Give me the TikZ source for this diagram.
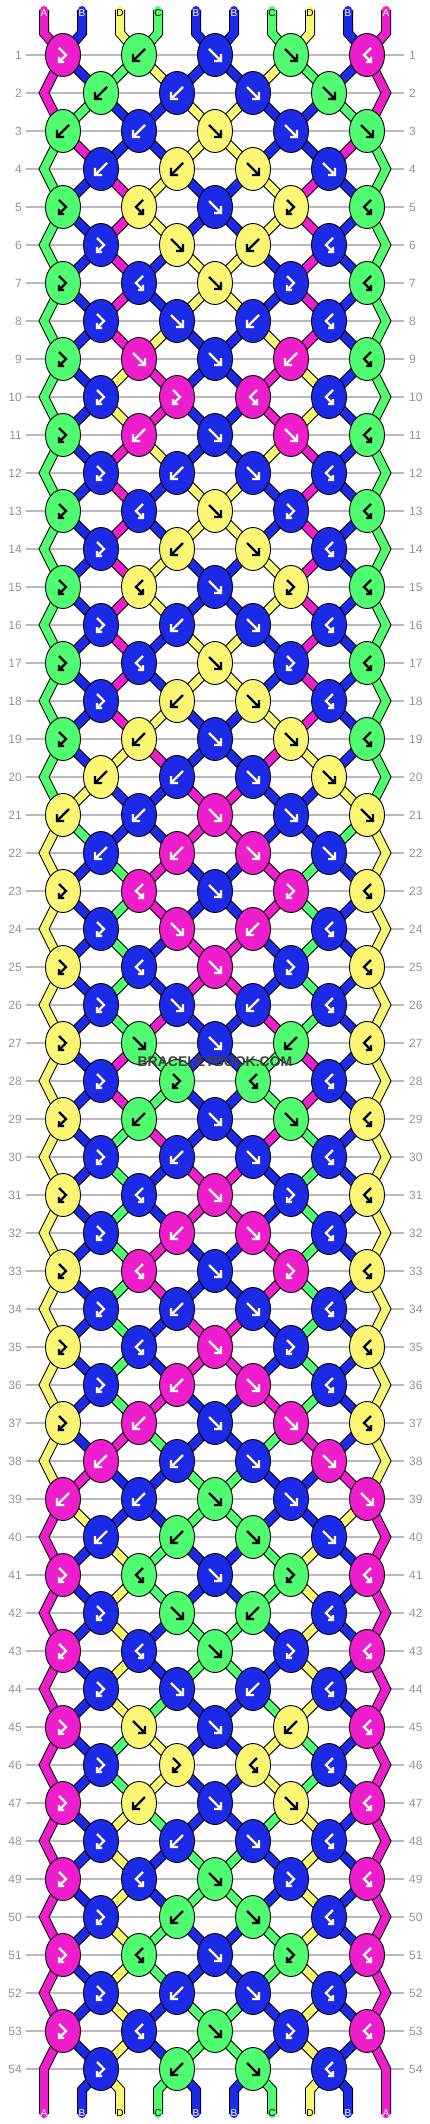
\documentclass[tikz,border=0pt]{standalone}
\usepackage{fontspec}
\setmainfont{Liberation Sans}
\usetikzlibrary{shapes.geometric}
\pgfdeclarelayer{grid}
\pgfdeclarelayer{bg}
\pgfsetlayers{grid,bg,main}

\definecolor{colA}{RGB}{238,30,204}
\definecolor{colB}{RGB}{28,42,232}
\definecolor{colC}{RGB}{80,252,112}
\definecolor{colD}{RGB}{250,247,116}
\colorlet{arrA}{white}
\colorlet{arrB}{white}
\colorlet{arrC}{black}
\colorlet{arrD}{black}
\definecolor{wmgray}{RGB}{64,64,64}

\tikzset{
  x=1pt, y=-1pt,
  knot/.style={ellipse, draw=black, line width=0.9pt, minimum width=35pt, minimum height=43pt, inner sep=0pt},
  strand/.style={draw=col#1, line width=8pt, preaction={draw=black, line width=10pt}},
  strandend/.style={strand=#1, line cap=round},
  arrline/.style={line width=2.3pt},
  gridline/.style={draw=black!27, line width=1.2pt},
  rownum/.style={text=black!42, font=\fontsize{12}{12}\selectfont, inner sep=0pt},
  strlabel/.style={font=\fontsize{10}{10}\selectfont, inner sep=0pt},
}

\makeatletter
\def\setp#1#2{\expandafter\xdef\csname pos#1\endcsname{#2}}
\def\getp#1{\csname pos#1\endcsname}
\makeatother

\newcommand\knarF[1]{\draw[arrline,#1] (-6,-6) -- (6,6) (6,-1) -- (6,6) -- (-1,6);}
\newcommand\knarB[1]{\draw[arrline,#1] (6,-6) -- (-6,6) (-6,-1) -- (-6,6) -- (1,6);}
\newcommand\knarFB[1]{\draw[arrline,#1] (-4,-7) -- (3,0) -- (-4,7) (-4,2) -- (-4,7) -- (1,7);}
\newcommand\knarBF[1]{\draw[arrline,#1] (4,-7) -- (-3,0) -- (4,7) (4,2) -- (4,7) -- (-1,7);}

\expandafter\def\csname kt-f\endcsname{\let\kc\sL\def\sw{1}\let\arrcmd\knarF}
\expandafter\def\csname kt-b\endcsname{\let\kc\sR\def\sw{1}\let\arrcmd\knarB}
\expandafter\def\csname kt-r\endcsname{\let\kc\sL\def\sw{0}\let\arrcmd\knarFB}
\expandafter\def\csname kt-l\endcsname{\let\kc\sR\def\sw{0}\let\arrcmd\knarBF}

\newcommand\knotrow[2]{%
  \ifodd#1\relax\def\cstart{0}\else\def\cstart{1}\fi
  \pgfmathtruncatemacro\prevrow{#1-1}%
  \pgfmathtruncatemacro\pprow{#1-2}%
  \pgfmathtruncatemacro\ky{55+38*(#1-1)}%
  \pgfmathtruncatemacro\py{55+38*(#1-2)}%
  \foreach \kt [count=\n from 0] in {#2}{%
    \pgfmathtruncatemacro\kcol{\cstart+2*\n}%
    \pgfmathtruncatemacro\plft{\kcol+1}%
    \pgfmathtruncatemacro\prgt{\kcol+2}%
    \pgfmathtruncatemacro\cm{\kcol-1}%
    \pgfmathtruncatemacro\cp{\kcol+1}%
    \pgfmathtruncatemacro\kx{63+38*\kcol}%
    \pgfmathtruncatemacro\xl{44+38*\kcol}%
    \pgfmathtruncatemacro\xr{82+38*\kcol}%
    \edef\sL{\getp{\plft}}\edef\sR{\getp{\prgt}}%
    \csname kt-\kt\endcsname
    \node[knot, fill=col\kc] (k-#1-\kcol) at (\kx,\ky) {};
    \arrcmd{color=arr\kc, shift={(\kx,\ky)}}
    \begin{pgfonlayer}{bg}
      \ifnum#1=1\relax
        \draw[strandend=\sL] (\xl,10) -- (\xl,33) -- (k-1-\kcol.center);
        \draw[strandend=\sR] (\xr,10) -- (\xr,33) -- (k-1-\kcol.center);
      \else
        \ifnum\kcol>0\relax
          \draw[strand=\sL] (k-\prevrow-\cm.center) -- (k-#1-\kcol.center);
        \else
          \draw[strand=\sL] (k-\pprow-0.center) -- (44,\py) -- (k-#1-\kcol.center);
        \fi
        \ifnum\kcol<8\relax
          \draw[strand=\sR] (k-\prevrow-\cp.center) -- (k-#1-\kcol.center);
        \else
          \draw[strand=\sR] (k-\pprow-8.center) -- (386,\py) -- (k-#1-\kcol.center);
        \fi
      \fi
    \end{pgfonlayer}
    \ifnum#1=1\relax
      \node[strlabel, text=arr\sL] (top-\plft) at (\xl,13) {\sL};
      \node[strlabel, text=arr\sR] (top-\prgt) at (\xr,13) {\sR};
    \fi
    \ifnum\sw=1\relax\setp{\plft}{\sR}\setp{\prgt}{\sL}\fi
  }%
}

\begin{document}
\begin{tikzpicture}
\useasboundingbox (0,0) rectangle (430,2124);
\begin{pgfonlayer}{grid}
  \fill[white] (0,0) rectangle (430,2124);
  \foreach \rr in {1,...,54}{
    \pgfmathtruncatemacro\gy{55+38*(\rr-1)}
    \draw[gridline] (26,\gy) -- (404,\gy);
    \node[rownum, anchor=east] (ln-\rr) at (22,\gy) {\rr};
    \node[rownum, anchor=west] (rn-\rr) at (409,\gy) {\rr};
  }
\end{pgfonlayer}

\setp{1}{A}\setp{2}{B}\setp{3}{D}\setp{4}{C}\setp{5}{B}%
\setp{6}{B}\setp{7}{C}\setp{8}{D}\setp{9}{B}\setp{10}{A}%

\knotrow{1}{r,b,f,f,l}
\knotrow{2}{b,b,f,f}
\knotrow{3}{b,b,f,f,f}
\knotrow{4}{b,b,f,f}
\knotrow{5}{r,l,f,r,l}
\knotrow{6}{r,f,b,l}
\knotrow{7}{r,l,f,r,l}
\knotrow{8}{r,f,b,l}
\knotrow{9}{r,f,f,b,l}
\knotrow{10}{r,r,l,l}
\knotrow{11}{r,b,f,f,l}
\knotrow{12}{r,b,f,l}
\knotrow{13}{r,l,f,r,l}
\knotrow{14}{r,b,f,l}
\knotrow{15}{r,l,f,r,l}
\knotrow{16}{r,b,f,l}
\knotrow{17}{r,l,f,r,l}
\knotrow{18}{r,b,f,l}
\knotrow{19}{r,b,f,f,l}
\knotrow{20}{b,b,f,f}
\knotrow{21}{b,b,f,f,f}
\knotrow{22}{b,b,f,f}
\knotrow{23}{r,l,f,r,l}
\knotrow{24}{r,f,b,l}
\knotrow{25}{r,l,f,r,l}
\knotrow{26}{r,f,b,l}
\knotrow{27}{r,f,f,b,l}
\knotrow{28}{r,r,l,l}
\knotrow{29}{r,b,f,f,l}
\knotrow{30}{r,b,f,l}
\knotrow{31}{r,l,f,r,l}
\knotrow{32}{r,b,f,l}
\knotrow{33}{r,l,f,r,l}
\knotrow{34}{r,b,f,l}
\knotrow{35}{r,l,f,r,l}
\knotrow{36}{r,b,f,l}
\knotrow{37}{r,b,f,f,l}
\knotrow{38}{b,b,f,f}
\knotrow{39}{b,b,f,f,f}
\knotrow{40}{b,b,f,f}
\knotrow{41}{r,l,f,r,l}
\knotrow{42}{r,f,b,l}
\knotrow{43}{r,l,f,r,l}
\knotrow{44}{r,f,b,l}
\knotrow{45}{r,f,f,b,l}
\knotrow{46}{r,r,l,l}
\knotrow{47}{r,b,f,f,l}
\knotrow{48}{r,b,f,l}
\knotrow{49}{r,l,f,r,l}
\knotrow{50}{r,b,f,l}
\knotrow{51}{r,l,f,r,l}
\knotrow{52}{r,b,f,l}
\knotrow{53}{r,l,f,r,l}
\knotrow{54}{r,b,f,l}

% bottom ends
\foreach \kcol in {1,3,5,7}{
  \pgfmathtruncatemacro\plft{\kcol+1}
  \pgfmathtruncatemacro\prgt{\kcol+2}
  \pgfmathtruncatemacro\xl{44+38*\kcol}
  \pgfmathtruncatemacro\xr{82+38*\kcol}
  \edef\sL{\getp{\plft}}\edef\sR{\getp{\prgt}}
  \begin{pgfonlayer}{bg}
    \draw[strandend=\sL] (k-54-\kcol.center) -- (\xl,2090) -- (\xl,2114);
    \draw[strandend=\sR] (k-54-\kcol.center) -- (\xr,2090) -- (\xr,2114);
  \end{pgfonlayer}
  \node[strlabel, text=arr\sL] (bot-\plft) at (\xl,2113) {\sL};
  \node[strlabel, text=arr\sR] (bot-\prgt) at (\xr,2113) {\sR};
}
\edef\sL{\getp{1}}\edef\sR{\getp{10}}
\begin{pgfonlayer}{bg}
  \draw[strandend=\sL] (k-53-0.center) -- (44,2069) -- (44,2114);
  \draw[strandend=\sR] (k-53-8.center) -- (386,2069) -- (386,2114);
\end{pgfonlayer}
\node[strlabel, text=arr\sL] (bot-1) at (44,2113) {\sL};
\node[strlabel, text=arr\sR] (bot-10) at (386,2113) {\sR};

\node[text=wmgray, font=\fontsize{14}{14}\selectfont\bfseries, inner sep=0pt] (wm) at (215,1062) {BRACELETBOOK.COM};
\end{tikzpicture}
\end{document}
